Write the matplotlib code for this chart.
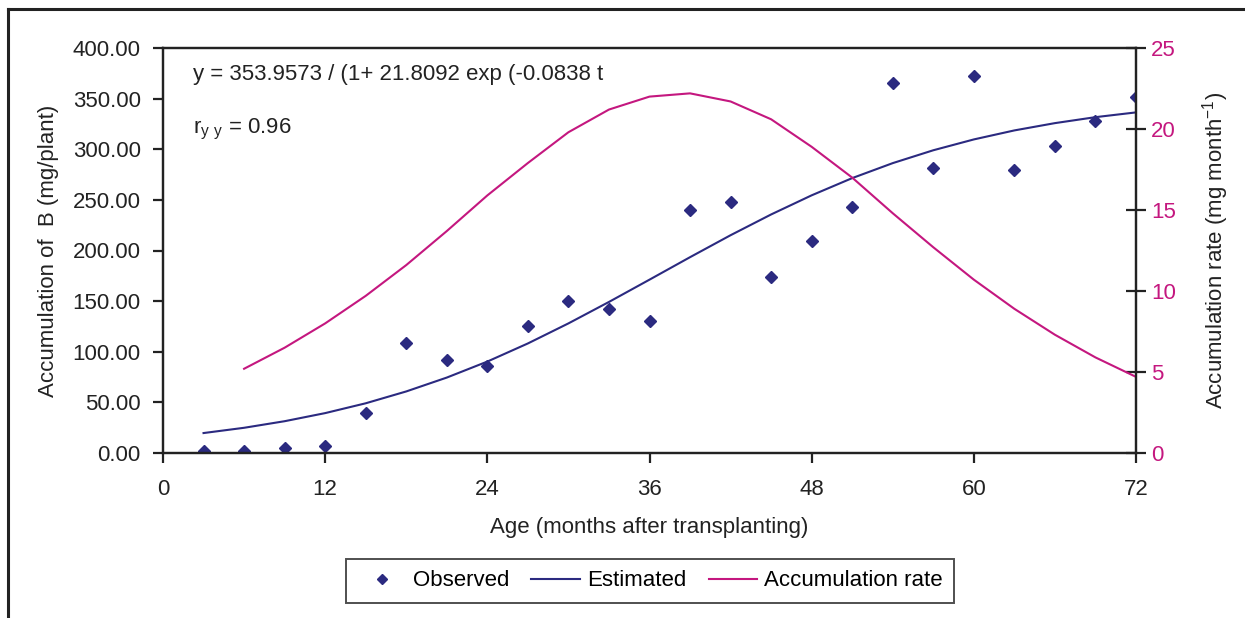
import matplotlib.pyplot as plt
from matplotlib.lines import Line2D

plt.rcParams['font.family'] = ['Liberation Sans', 'DejaVu Sans']

# Données
age = [3, 6, 9, 12, 15, 18, 21, 24, 27, 30, 33, 36,
       39, 42, 45, 48, 51, 54, 57, 60, 63, 66, 69, 72]
observed = [2, 2, 5, 7, 40, 109, 92, 86, 125, 150, 142, 130,
            240, 248, 174, 209, 243, 365, 281, 372, 280, 303, 328, 352]
estimated = [19.7, 24.9, 31.4, 39.4, 49.1, 60.8, 74.5, 90.3, 108.2, 128.0, 149.2, 171.2,
             193.4, 215.1, 235.6, 254.5, 271.5, 286.3, 299.0, 309.7, 318.6, 325.8, 331.7, 336.4]
rate_age = [6, 9, 12, 15, 18, 21, 24, 27, 30, 33, 36,
            39, 42, 45, 48, 51, 54, 57, 60, 63, 66, 69, 72]
rate = [5.2, 6.5, 8.0, 9.7, 11.6, 13.7, 15.9, 17.9, 19.8, 21.2, 22.0,
        22.2, 21.7, 20.6, 18.9, 17.0, 14.8, 12.7, 10.7, 8.9, 7.3, 5.9, 4.7]

x_ticks = [0, 12, 24, 36, 48, 60, 72]
y_ticks = [0, 50, 100, 150, 200, 250, 300, 350, 400]
rate_ticks = [0, 5, 10, 15, 20, 25]

navy = '#2B2A80'
magenta = '#C4177F'
dark = '#222222'
fs = 16

fig = plt.figure(figsize=(12.45, 6.18), dpi=100)
ax = fig.add_axes([163 / 1245, 1 - 453 / 618, (1136 - 163) / 1245, (453 - 48) / 618])
ax2 = ax.twinx()

# Cadre extérieur (seuls le haut et la gauche sont visibles)
fig.add_artist(Line2D([8 / 1245, 1.01], [1 - 9 / 618, 1 - 9 / 618], color=dark, lw=2.2))
fig.add_artist(Line2D([8 / 1245, 8 / 1245], [1 - 9 / 618, -0.01], color=dark, lw=2.2))

ax.plot(age, observed, linestyle='none', marker='D', markersize=6, color=navy, label='Observed')
ax.plot(age, estimated, color=navy, lw=1.5, label='Estimated')
ax2.plot(rate_age, rate, color=magenta, lw=1.5, label='Accumulation rate')

ax.set_xlim(0, 72)
ax.set_ylim(0, 400)
ax2.set_ylim(0, 25)
ax.set_xticks(x_ticks)
ax.set_yticks(y_ticks)
ax.set_yticklabels(['%.2f' % v for v in y_ticks])
ax2.set_yticks(rate_ticks)

for s in ax.spines.values():
    s.set_color(dark)
    s.set_linewidth(1.6)
for s in ax2.spines.values():
    s.set_color(dark)
    s.set_linewidth(1.6)

ax.tick_params(axis='x', direction='out', length=7, width=1.6, color=dark,
               labelsize=fs, labelcolor=dark, pad=12)
ax.tick_params(axis='y', direction='out', length=7, width=1.6, color=dark,
               labelsize=fs, labelcolor=dark, pad=9)
ax2.tick_params(axis='y', direction='inout', length=14, width=1.6, color=dark,
                labelsize=fs, labelcolor=magenta, pad=4)

ax.set_xlabel('Age (months after transplanting)', fontsize=fs, color=dark, labelpad=12)
ax.set_ylabel('Accumulation of  B (mg/plant)', fontsize=fs, color=dark, labelpad=10)
ax2.set_ylabel('Accumulation rate (mg month$^{\\mathregular{-1}}$)', fontsize=fs, color=dark, labelpad=17)

ax.text(0.031, 0.935, 'y = 353.9573 / (1+ 21.8092 exp (-0.0838 t', transform=ax.transAxes,
        fontsize=fs, color=dark, va='center')
ax.text(0.031, 0.8, 'r$_{\\mathregular{y\\ y}}$ = 0.96', transform=ax.transAxes,
        fontsize=fs, color=dark, va='center')

handles = ax.get_legend_handles_labels()[0] + ax2.get_legend_handles_labels()[0]
labels = ['Observed', 'Estimated', 'Accumulation rate']
leg = fig.legend(handles, labels, loc='center', bbox_to_anchor=(650 / 1245, 1 - 581 / 618),
                 ncol=3, fontsize=fs, frameon=True, fancybox=False, edgecolor=dark,
                 handlelength=2.2, columnspacing=1.0, handletextpad=0.3, borderpad=0.5,
                 markerscale=0.8)
leg.get_frame().set_linewidth(1.4)
leg.get_frame().set_facecolor('white')

fig.savefig('out.png', dpi=100)
